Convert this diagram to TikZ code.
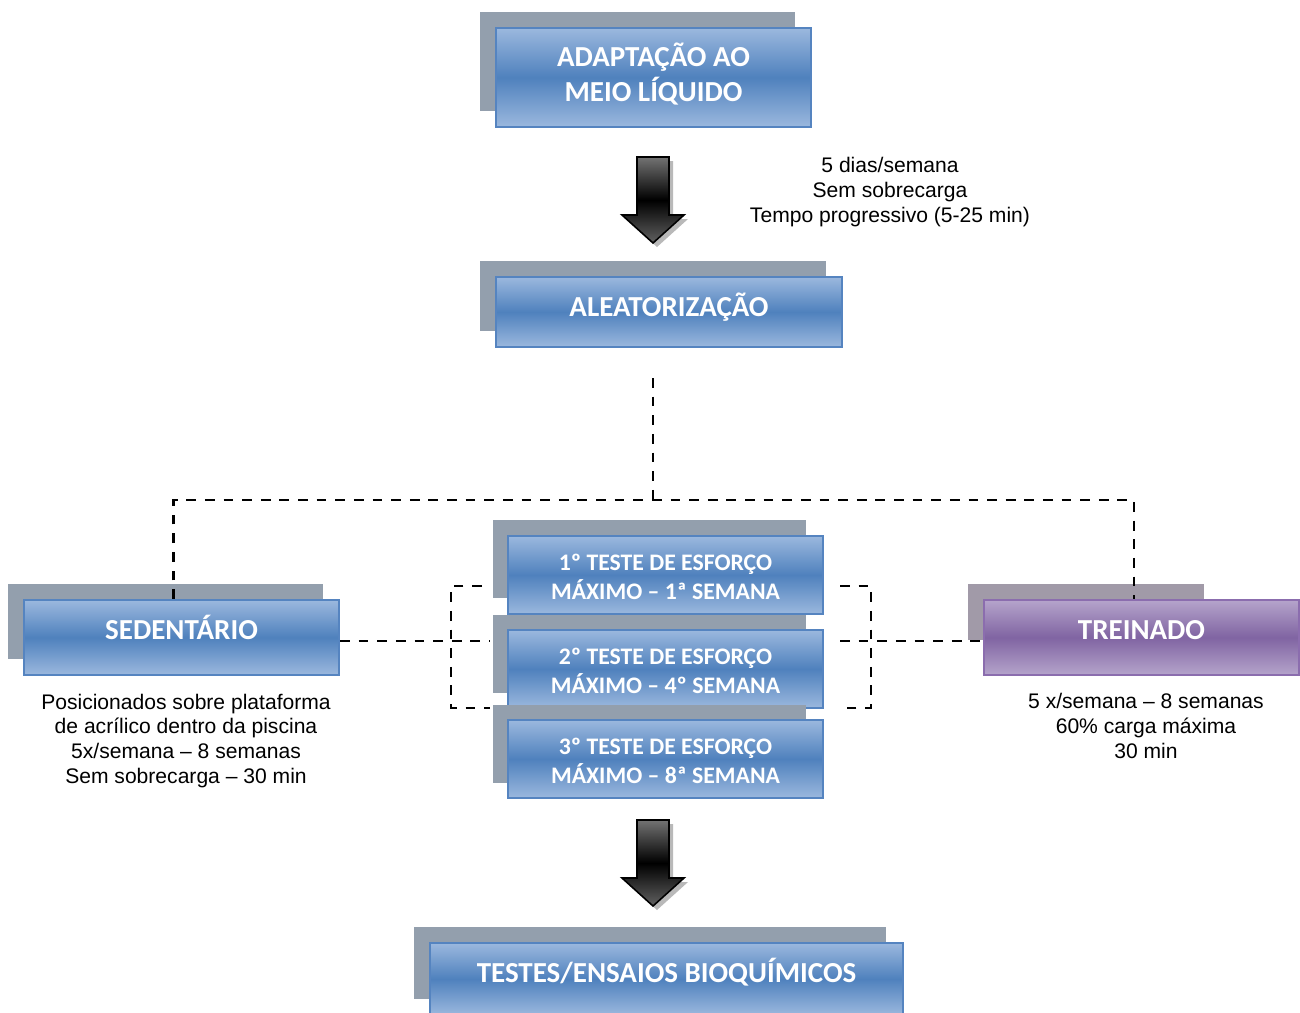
\documentclass[tikz,border=0pt]{standalone}
\usepackage{fontspec}
\setmainfont{Liberation Sans}
\newfontfamily\boxfont{Carlito}
\usetikzlibrary{calc}
\definecolor{boxmid}{HTML}{4F81BD}
\definecolor{boxlight}{HTML}{9BB8DE}
\definecolor{boxedge}{HTML}{5584C0}
\definecolor{prpmid}{HTML}{8064A2}
\definecolor{prplight}{HTML}{B5A4CB}
\definecolor{prpedge}{HTML}{8B6DAE}
\definecolor{shadegray}{HTML}{939FAD}
\definecolor{shadeprp}{HTML}{A19AA8}

\begin{document}
\begin{tikzpicture}[x=0.02cm,y=-0.02cm,
  blk/.style={rectangle,draw=boxedge,line width=1.2pt,top color=boxlight,bottom color=boxlight,middle color=boxmid,text=white,align=center,inner sep=0pt,font=\boxfont\bfseries\fontsize{16.5}{20}\selectfont},
  prp/.style={blk,draw=prpedge,top color=prplight,bottom color=prplight,middle color=prpmid},
  tst/.style={blk,text height=1.06cm,text depth=0.1cm,font=\boxfont\bfseries\fontsize{13.5}{16.5}\selectfont},
  shd/.style={rectangle,fill=shadegray,inner sep=0pt},
  info/.style={align=center,inner sep=0pt,font=\fontsize{12}{14.2}\selectfont},
  dsh/.style={dash pattern=on 5.6pt off 5pt,line width=1.3pt},
  arrfill/.style={draw=black,line width=0.9pt,top color=black!55,bottom color=black!62,middle color=black}
]
\clip (0,0) rectangle (1300,1012);

% top of the flow
\node[shd,minimum width=6.3cm,minimum height=1.98cm] (adaptsh) at (637.5,61.5) {};
\node[blk,text height=1.056cm,text depth=0.1cm,minimum width=6.3cm,minimum height=1.98cm] (adapt) at (653.5,77.5) {ADAPTAÇÃO AO\\MEIO LÍQUIDO};

\node[shd,minimum width=6.92cm,minimum height=1.4cm] (aleatsh) at (653,296) {};
\node[blk,text height=0.5cm,text depth=0.32cm,minimum width=6.92cm,minimum height=1.4cm] (aleat) at (669,312) {ALEATORIZAÇÃO};

\node[info] (adaptinfo) at (890,192) {5 dias/semana\\Sem sobrecarga\\Tempo progressivo (5-25 min)};

% groups
\node[shd,minimum width=6.3cm,minimum height=1.5cm] (sedsh) at (165.5,621.5) {};
\node[blk,text height=0.45cm,text depth=0.37cm,minimum width=6.3cm,minimum height=1.5cm] (sed) at (181.5,637.5) {SEDENTÁRIO};

\node[shd,fill=shadeprp,minimum width=4.72cm,minimum height=1.12cm] (treinsh) at (1086,612) {};
\node[prp,text height=0.45cm,text depth=0.37cm,minimum width=6.3cm,minimum height=1.5cm] (trein) at (1141.5,637.5) {TREINADO};

\node[info] (sedinfo) at (186,741) {Posicionados sobre plataforma\\de acrílico dentro da piscina\\5x/semana – 8 semanas\\Sem sobrecarga – 30 min};
\node[info] (treininfo) at (1146,726) {5 x/semana – 8 semanas\\60\% carga máxima\\30 min};

% tests
\node[shd,minimum width=6.28cm,minimum height=1.56cm] (test1sh) at (649.5,559) {};
\node[tst,minimum width=6.3cm,minimum height=1.56cm] (test1) at (665.5,575) {1º TESTE DE ESFORÇO\\MÁXIMO – 1ª SEMANA};
\node[shd,minimum width=6.28cm,minimum height=1.56cm] (test2sh) at (649.5,653.5) {};
\node[tst,minimum width=6.3cm,minimum height=1.56cm] (test2) at (665.5,669) {2º TESTE DE ESFORÇO\\MÁXIMO – 4º SEMANA};
\node[shd,minimum width=6.28cm,minimum height=1.56cm] (test3sh) at (649.5,743.5) {};
\node[tst,minimum width=6.3cm,minimum height=1.56cm] (test3) at (665.5,759) {3º TESTE DE ESFORÇO\\MÁXIMO – 8ª SEMANA};

\node[shd,minimum width=9.44cm,minimum height=1.44cm] (bioqsh) at (650,963) {};
\node[blk,text height=0.48cm,text depth=0.33cm,minimum width=9.46cm,minimum height=1.44cm] (bioq) at (666.5,979) {TESTES/ENSAIOS BIOQUÍMICOS};

% dashed links
\coordinate (drop) at (653,378);
\coordinate (split) at (653,500);
\draw[dsh] (drop) -- (split);
\draw[dsh] ($(sed.north)+(-8,0)$) |- (split) -| ($(trein.north)+(-7.5,0)$);

\coordinate (lmid) at (490,641);
\coordinate (rmid) at (840,641);
\draw[dsh] (sed.east |- lmid) -- (lmid);
\draw[dsh] (rmid) -- (trein.west |- rmid);

\coordinate (lbt) at (482,586);
\coordinate (lbb) at (490,708);
\draw[dsh] (lbt) -- ++(-31,0) |- (lbb);
\coordinate (rbt) at (840,586);
\coordinate (rbb) at (840,708);
\draw[dsh] (rbt) -- ++(31,0) |- (rbb);

% block arrows
\coordinate (arrA) at (653,157);
\coordinate (arrB) at (653,820);
\fill[gray!55] ($(arrA)+(4,4)$) ++(-16,0) -- ++(32,0) -- ++(0,58) -- ++(15,0) -- ++(-31,28) -- ++(-31,-28) -- ++(15,0) -- cycle;
\shade[arrfill] (arrA) ++(-16,0) -- ++(32,0) -- ++(0,58) -- ++(15,0) -- ++(-31,28) -- ++(-31,-28) -- ++(15,0) -- cycle;
\fill[gray!55] ($(arrB)+(4,4)$) ++(-16,0) -- ++(32,0) -- ++(0,58) -- ++(15,0) -- ++(-31,28) -- ++(-31,-28) -- ++(15,0) -- cycle;
\shade[arrfill] (arrB) ++(-16,0) -- ++(32,0) -- ++(0,58) -- ++(15,0) -- ++(-31,28) -- ++(-31,-28) -- ++(15,0) -- cycle;
\end{tikzpicture}
\end{document}
